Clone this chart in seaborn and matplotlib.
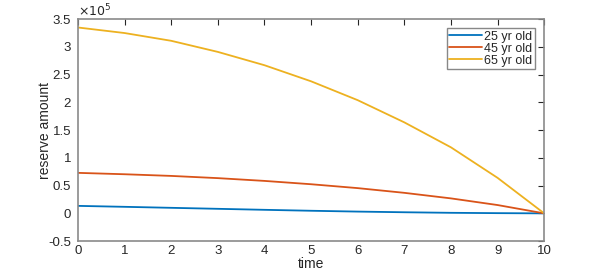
import matplotlib
matplotlib.use("Agg")
import matplotlib.pyplot as plt
import seaborn as sns
import pandas as pd

time = [0, 1, 2, 3, 4, 5, 6, 7, 8, 9, 10]
reserve_25 = [0.135, 0.118, 0.10, 0.082, 0.064, 0.047, 0.032, 0.02, 0.01, 0.004, 0.0]
reserve_45 = [0.73, 0.705, 0.675, 0.635, 0.585, 0.525, 0.455, 0.37, 0.27, 0.15, 0.0]
reserve_65 = [3.35, 3.25, 3.11, 2.91, 2.67, 2.38, 2.04, 1.64, 1.19, 0.64, 0.0]
labels = ["25 yr old", "45 yr old", "65 yr old"]
colors = ["#0072BD", "#D95319", "#EDB120"]
scale = 1e5

rows = []
for lab, vals in zip(labels, [reserve_25, reserve_45, reserve_65]):
    for t, v in zip(time, vals):
        rows.append({"time": t, "reserve": v * scale, "group": lab})
df = pd.DataFrame(rows)

sns.set_style("white")
plt.rcParams["font.family"] = ["Liberation Sans", "DejaVu Sans"]
plt.rcParams["font.size"] = 9.5

fig = plt.figure(figsize=(6, 2.7), dpi=100)
ax = fig.add_axes([0.13, 0.107, 0.777, 0.822])
sns.lineplot(data=df, x="time", y="reserve", hue="group", palette=colors,
             hue_order=labels, linewidth=1.3, ax=ax)

ax.set_xlim(0, 10)
ax.set_ylim(-0.5 * scale, 3.5 * scale)
ax.set_xticks(range(0, 11))
yt = [-0.5, 0, 0.5, 1, 1.5, 2, 2.5, 3, 3.5]
ax.set_yticks([v * scale for v in yt])
ax.set_yticklabels(["-0.5", "0", "0.5", "1", "1.5", "2", "2.5", "3", "3.5"])
ax.set_xlabel("time", fontsize=10, labelpad=0)
ax.set_ylabel("reserve amount", fontsize=10, labelpad=-3)
for s in ax.spines.values():
    s.set_visible(True)
    s.set_color("#8a8a8a")
    s.set_linewidth(1.2)
ax.tick_params(direction="in", length=4, width=0.8, color="#262626",
               top=True, right=True, labelsize=9.5, labelcolor="#262626")
ax.tick_params(axis="y", pad=5)
ax.tick_params(axis="x", pad=3)
ax.text(0.0, 1.012, r"$\times10^{5}$", transform=ax.transAxes, fontsize=9,
        ha="left", va="baseline", color="#262626", math_fontfamily="dejavusans")

leg = ax.legend(loc="upper right", bbox_to_anchor=(0.98, 0.96), frameon=True,
                fancybox=False, handlelength=2.6, handletextpad=0.2,
                borderpad=0.2, labelspacing=0.0, fontsize=9,
                borderaxespad=0.0)
leg.get_frame().set_edgecolor("#6a6a6a")
leg.get_frame().set_linewidth(1.0)
for line in leg.get_lines():
    line.set_linewidth(1.3)

fig.savefig("out.png", dpi=100)
